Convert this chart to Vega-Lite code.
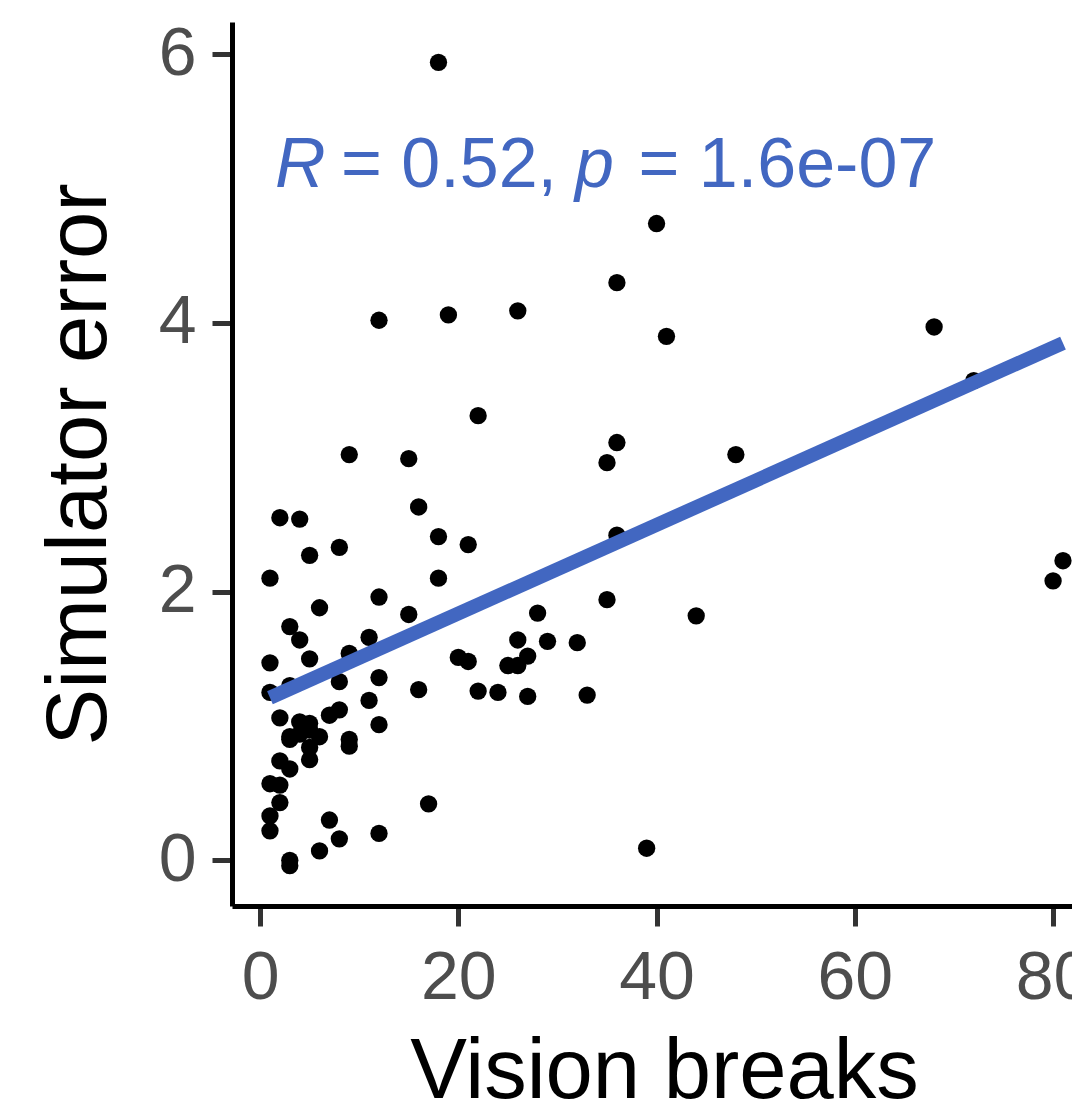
{
  "$schema": "https://vega.github.io/schema/vega-lite/v6.json",
  "autosize": {"type": "none"},
  "width": 840,
  "height": 884,
  "padding": {"left": 232, "top": 22, "right": 0, "bottom": 196},
  "background": "white",
  "config": {
    "view": {"stroke": null},
    "font": "Liberation Sans",
    "axis": {
      "grid": false,
      "domainColor": "#000000",
      "domainWidth": 5,
      "tickColor": "#333333",
      "tickWidth": 5,
      "tickSize": 20,
      "labelFont": "Liberation Sans",
      "labelFontSize": 68,
      "labelColor": "#4d4d4d",
      "titleFont": "Liberation Sans",
      "titleFontSize": 85,
      "titleFontWeight": "normal",
      "titleColor": "#000000"
    }
  },
  "datasets": {
    "pts": [
      {"breaks": 18, "error": 5.94}, {"breaks": 40, "error": 4.74}, {"breaks": 36, "error": 4.30}, {"breaks": 12, "error": 4.02},
      {"breaks": 19, "error": 4.06}, {"breaks": 26, "error": 4.09}, {"breaks": 41, "error": 3.90}, {"breaks": 68, "error": 3.97},
      {"breaks": 72, "error": 3.57}, {"breaks": 22, "error": 3.31}, {"breaks": 36, "error": 3.11}, {"breaks": 35, "error": 2.96},
      {"breaks": 9, "error": 3.02}, {"breaks": 15, "error": 2.99}, {"breaks": 48, "error": 3.02}, {"breaks": 16, "error": 2.63},
      {"breaks": 2, "error": 2.55}, {"breaks": 4, "error": 2.54}, {"breaks": 36, "error": 2.42}, {"breaks": 8, "error": 2.33},
      {"breaks": 18, "error": 2.41}, {"breaks": 21, "error": 2.35}, {"breaks": 5, "error": 2.27}, {"breaks": 1, "error": 2.10},
      {"breaks": 18, "error": 2.10}, {"breaks": 80, "error": 2.08}, {"breaks": 81, "error": 2.23}, {"breaks": 12, "error": 1.96},
      {"breaks": 35, "error": 1.94}, {"breaks": 6, "error": 1.88}, {"breaks": 15, "error": 1.83}, {"breaks": 28, "error": 1.84},
      {"breaks": 44, "error": 1.82}, {"breaks": 3, "error": 1.74}, {"breaks": 4, "error": 1.64}, {"breaks": 11, "error": 1.66},
      {"breaks": 26, "error": 1.64}, {"breaks": 29, "error": 1.63}, {"breaks": 32, "error": 1.62}, {"breaks": 9, "error": 1.54},
      {"breaks": 1, "error": 1.47}, {"breaks": 5, "error": 1.50}, {"breaks": 20, "error": 1.51}, {"breaks": 21, "error": 1.48},
      {"breaks": 25, "error": 1.45}, {"breaks": 26, "error": 1.45}, {"breaks": 27, "error": 1.52}, {"breaks": 12, "error": 1.36},
      {"breaks": 8, "error": 1.33}, {"breaks": 3, "error": 1.30}, {"breaks": 1, "error": 1.25}, {"breaks": 16, "error": 1.27},
      {"breaks": 22, "error": 1.26}, {"breaks": 24, "error": 1.25}, {"breaks": 27, "error": 1.22}, {"breaks": 33, "error": 1.23},
      {"breaks": 11, "error": 1.19}, {"breaks": 8, "error": 1.12}, {"breaks": 7, "error": 1.08}, {"breaks": 2, "error": 1.06},
      {"breaks": 12, "error": 1.01}, {"breaks": 5, "error": 1.02}, {"breaks": 4, "error": 1.03}, {"breaks": 3, "error": 0.92},
      {"breaks": 4, "error": 0.94}, {"breaks": 5, "error": 0.97}, {"breaks": 6, "error": 0.92}, {"breaks": 9, "error": 0.90},
      {"breaks": 9, "error": 0.85}, {"breaks": 3, "error": 0.90}, {"breaks": 5, "error": 0.84}, {"breaks": 5, "error": 0.75},
      {"breaks": 2, "error": 0.74}, {"breaks": 3, "error": 0.68}, {"breaks": 1, "error": 0.57}, {"breaks": 2, "error": 0.56},
      {"breaks": 2, "error": 0.43}, {"breaks": 17, "error": 0.42}, {"breaks": 1, "error": 0.33}, {"breaks": 1, "error": 0.22},
      {"breaks": 7, "error": 0.30}, {"breaks": 8, "error": 0.16}, {"breaks": 6, "error": 0.07}, {"breaks": 12, "error": 0.20},
      {"breaks": 3, "error": 0.00}, {"breaks": 3, "error": -0.04}, {"breaks": 39, "error": 0.09}
    ],
    "fit": [
      {"breaks": 1, "error": 1.21},
      {"breaks": 81, "error": 3.85}
    ],
    "label": [
      {"breaks": 1.51, "error": 5.01, "text": "R", "italic": true},
      {"breaks": 8.17, "error": 5.01, "text": "= 0.52,", "italic": false},
      {"breaks": 31.78, "error": 5.01, "text": "p", "italic": true},
      {"breaks": 38.18, "error": 5.01, "text": "= 1.6e-07", "italic": false}
    ]
  },
  "layer": [
    {
      "data": {"name": "pts"},
      "mark": {"type": "point", "filled": true, "shape": "circle", "size": 300, "color": "#000000", "opacity": 1, "clip": true},
      "encoding": {
        "x": {"field": "breaks", "type": "quantitative", "scale": {"domain": [-2.83, 81.91], "nice": false, "zero": false},
          "axis": {"values": [0, 20, 40, 60, 80], "title": "Vision breaks", "labelPadding": 18, "domainWidth": 5, "tickWidth": 5,
            "titleX": 432, "titleY": 191, "titleAlign": "center", "titleBaseline": "alphabetic"}},
        "y": {"field": "error", "type": "quantitative", "scale": {"domain": [-0.34, 6.24], "nice": false, "zero": false},
          "axis": {"values": [0, 2, 4, 6], "format": "d", "title": "Simulator error", "labelPadding": 16, "domainWidth": 5, "tickWidth": 5,
            "titleX": -127, "titleY": 442, "titleAngle": -90, "titleAlign": "center", "titleBaseline": "alphabetic"}}
      }
    },
    {
      "data": {"name": "fit"},
      "mark": {"type": "line", "color": "#4267c1", "strokeWidth": 14, "strokeCap": "butt", "clip": true},
      "encoding": {
        "x": {"field": "breaks", "type": "quantitative"},
        "y": {"field": "error", "type": "quantitative"}
      }
    },
    {
      "data": {"name": "label"},
      "transform": [{"filter": "datum.italic"}],
      "mark": {"type": "text", "align": "left", "baseline": "alphabetic", "fontSize": 70, "fontStyle": "italic", "color": "#4267c1", "font": "Liberation Sans"},
      "encoding": {
        "x": {"field": "breaks", "type": "quantitative"},
        "y": {"field": "error", "type": "quantitative"},
        "text": {"field": "text"}
      }
    },
    {
      "data": {"name": "label"},
      "transform": [{"filter": "!datum.italic"}],
      "mark": {"type": "text", "align": "left", "baseline": "alphabetic", "fontSize": 70, "color": "#4267c1", "font": "Liberation Sans"},
      "encoding": {
        "x": {"field": "breaks", "type": "quantitative"},
        "y": {"field": "error", "type": "quantitative"},
        "text": {"field": "text"}
      }
    }
  ]
}
